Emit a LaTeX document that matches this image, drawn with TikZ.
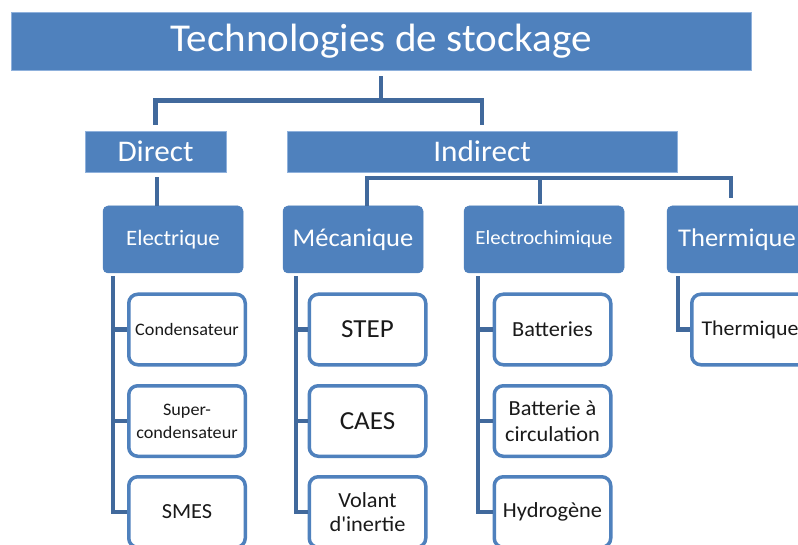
\documentclass[tikz,border=0pt]{standalone}
\usepackage{fontspec}
\setmainfont{Carlito}[FakeStretch=1.04]
\usetikzlibrary{calc}
\definecolor{boxblue}{HTML}{4F81BD}
\definecolor{edgeblue}{HTML}{8FB1DC}
\definecolor{lineblue}{HTML}{41699C}
\definecolor{leaftext}{HTML}{1A1A1A}
\newcommand{\fsz}[2]{\fontsize{#1}{#2}\selectfont}
\begin{document}
\begin{tikzpicture}[x=1pt,y=-1pt,
  topbox/.style={rectangle, fill=boxblue, draw=edgeblue, line width=0.8pt, text=white, inner sep=0pt},
  catbox/.style={rectangle, rounded corners=5pt, fill=boxblue, draw=boxblue, line width=0.5pt, text=white, minimum width=140pt, minimum height=67pt, inner sep=0pt},
  leafbox/.style={rectangle, rounded corners=9pt, fill=white, draw=boxblue, line width=3.5pt, text=leaftext, minimum width=116.5pt, minimum height=70.5pt, inner sep=0pt, align=center},
  conn/.style={draw=lineblue, line width=4.5pt}]
\useasboundingbox (0,0) rectangle (798,545);
\fill[white] (0,0) rectangle (798,545);
\clip (0,0) rectangle (798,545);

% level 0 and 1
\node[topbox, minimum width=740pt, minimum height=58pt, font=\fsz{39.5}{47}] (title) at (381,41) {Technologies de stockage};
\node[topbox, minimum width=141pt, minimum height=41pt, font=\fsz{30}{36}] (direct) at (155.5,151.5) {Direct};
\node[topbox, minimum width=390pt, minimum height=41pt, font=\fsz{30}{36}] (indirect) at (482,151.5) {Indirect};

% level 2
\node[catbox, font=\fsz{22}{26}] (elec) at (173,239.5) {Electrique};
\node[catbox, font=\fsz{25.5}{30}] (mec) at (353,239.5) {Mécanique};
\node[catbox, minimum width=160pt, font=\fsz{20}{24}] (echim) at (544,239.5) {Electrochimique};
\node[catbox, font=\fsz{25.5}{30}] (therm) at (737,239.5) {Thermique};

% leaves
\node[leafbox, font=\fsz{17.5}{21}] (c1) at (187,329.5) {Condensateur};
\node[leafbox, font=\fsz{17.5}{23}] (c2) at (187,421) {Super-\\condensateur};
\node[leafbox, font=\fsz{21.5}{26}] (c3) at (187,512) {SMES};
\node[leafbox, font=\fsz{26}{31}] (m1) at (367.5,329.5) {STEP};
\node[leafbox, font=\fsz{26}{31}] (m2) at (367.5,421) {CAES};
\node[leafbox, font=\fsz{21.5}{24}] (m3) at (367.5,512) {Volant\\d\textquotesingle inertie};
\node[leafbox, font=\fsz{21.5}{26}] (e1) at (552.5,329.5) {Batteries};
\node[leafbox, font=\fsz{21.5}{26}] (e2) at (552.5,421) {Batterie à\\circulation};
\node[leafbox, font=\fsz{21.5}{26}] (e3) at (552.5,512) {Hydrogène};
\node[leafbox, font=\fsz{21}{25}] (t1) at (750,329.5) {Thermique};

% top connectors
\coordinate (tmid) at ($(title.south)+(0,30)$);
\draw[conn] ($(title.south)+(0,6)$) -- (tmid) -| ($(direct.north)+(0,-6)$);
\draw[conn] (tmid) -| ($(indirect.north)+(0,-6)$);

% direct -> electrique
\coordinate (dlow) at ($(direct.south)+(1.5,5)$);
\draw[conn] (dlow) -- (dlow |- elec.north);

% indirect bracket
\coordinate (bar) at ($(indirect.south)+(0,5.5)$);
\coordinate (bl) at ($(mec.north)+(14,0)$);
\coordinate (bm) at ($(echim.north)+(-4,-2)$);
\coordinate (br) at ($(therm.north)+(-6,-8)$);
\draw[conn] (bl) -- (bl |- bar) -- (br |- bar) -- (br);
\draw[conn] (bm) -- (bm |- bar);

% level 2 -> leaves
\coordinate (ea) at ($(elec.south west)+(10,3)$);
\draw[conn] (ea) |- (c3.west);
\draw[conn] (ea |- c1.west) -- (c1.west);
\draw[conn] (ea |- c2.west) -- (c2.west);

\coordinate (ma) at ($(mec.south west)+(13,3)$);
\draw[conn] (ma) |- (m3.west);
\draw[conn] (ma |- m1.west) -- (m1.west);
\draw[conn] (ma |- m2.west) -- (m2.west);

\coordinate (ca) at ($(echim.south west)+(14,3)$);
\draw[conn] (ca) |- (e3.west);
\draw[conn] (ca |- e1.west) -- (e1.west);
\draw[conn] (ca |- e2.west) -- (e2.west);

\coordinate (ta) at ($(therm.south west)+(11,3)$);
\draw[conn] (ta) |- (t1.west);
\end{tikzpicture}
\end{document}
